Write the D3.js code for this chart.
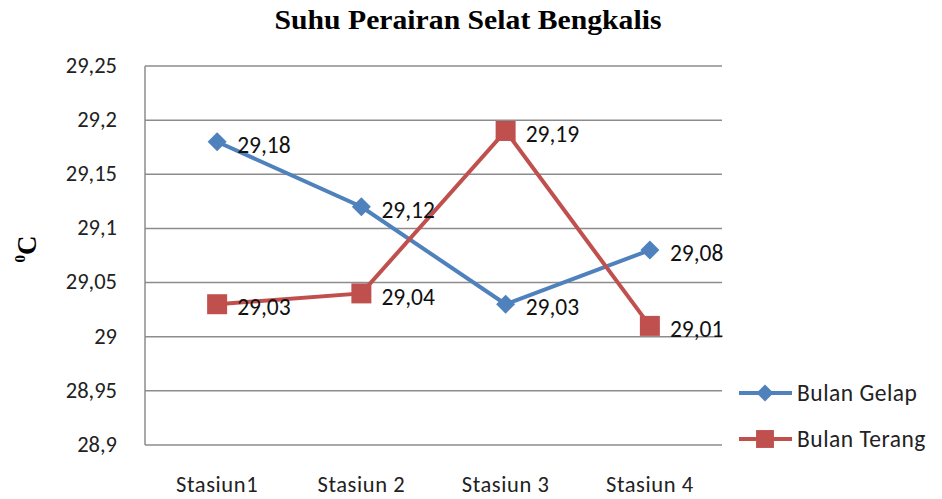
<!DOCTYPE html>
<html>
<head>
<meta charset="utf-8">
<script src="https://cdn.jsdelivr.net/npm/d3@7"></script>
<style>
  body { margin: 0; background: #fff; }
  svg { display: block; }
</style>
</head>
<body>
<div id="chart"></div>
<script>
const stations = ["Stasiun1", "Stasiun 2", "Stasiun 3", "Stasiun 4"];
const bulanGelap = [29.18, 29.12, 29.03, 29.08];
const bulanTerang = [29.03, 29.04, 29.19, 29.01];
const yTicks = [28.9, 28.95, 29, 29.05, 29.1, 29.15, 29.2, 29.25];

const width = 942, height = 499;
const margin = { top: 66, right: 220, bottom: 54, left: 145 };
const labelFont = "Carlito, Lato, 'Open Sans', sans-serif";
const fmt = (v) => String(+v.toFixed(2)).replace(".", ",");

const svg = d3.select("#chart")
  .append("svg")
  .attr("width", width)
  .attr("height", height);

const x = d3.scaleBand()
  .domain(stations)
  .range([margin.left, width - margin.right]);

const y = d3.scaleLinear()
  .domain([28.9, 29.25])
  .range([height - margin.bottom, margin.top]);

// gridlines
svg.append("g")
  .selectAll("line")
  .data(yTicks)
  .join("line")
  .attr("x1", margin.left)
  .attr("x2", width - margin.right)
  .attr("y1", (d) => y(d))
  .attr("y2", (d) => y(d))
  .attr("stroke", "#8c8c8c")
  .attr("stroke-width", 1.5);

// left axis line
svg.append("line")
  .attr("x1", margin.left).attr("x2", margin.left)
  .attr("y1", y(29.25)).attr("y2", y(28.9))
  .attr("stroke", "#8c8c8c")
  .attr("stroke-width", 1.5);

// y tick labels
svg.append("g")
  .selectAll("text")
  .data(yTicks)
  .join("text")
  .attr("x", 117)
  .attr("y", (d) => y(d) - 1)
  .attr("dy", "0.35em")
  .attr("text-anchor", "end")
  .attr("font-family", labelFont)
  .attr("font-size", 22.5)
  .attr("fill", "#222")
  .text(fmt);

// x labels
svg.append("g")
  .selectAll("text")
  .data(stations)
  .join("text")
  .attr("x", (d) => x(d) + x.bandwidth() / 2)
  .attr("y", 492)
  .attr("text-anchor", "middle")
  .attr("font-family", labelFont)
  .attr("font-size", 22.5)
  .attr("letter-spacing", 0.6)
  .attr("fill", "#222")
  .text((d) => d);

// title
svg.append("text")
  .attr("x", 468)
  .attr("y", 29)
  .attr("text-anchor", "middle")
  .attr("font-family", "'Liberation Serif', 'Times New Roman', serif")
  .attr("font-weight", "bold")
  .attr("font-size", 27)
  .attr("textLength", 387)
  .attr("lengthAdjust", "spacingAndGlyphs")
  .text("Suhu Perairan Selat Bengkalis");

// y axis title
const yt = svg.append("text")
  .attr("transform", "translate(36,249) rotate(-90)")
  .attr("text-anchor", "middle")
  .attr("font-family", "'Liberation Serif', 'Times New Roman', serif")
  .attr("font-weight", "bold")
  .attr("font-size", 27);
yt.append("tspan").attr("font-size", 15).attr("dy", -11).text("0");
yt.append("tspan").attr("dy", 11).text("C");

const diamond = {
  draw(ctx, size) {
    const r = Math.sqrt(size / 2);
    ctx.moveTo(0, -r); ctx.lineTo(r, 0); ctx.lineTo(0, r); ctx.lineTo(-r, 0); ctx.closePath();
  }
};

const series = [
  { name: "Bulan Gelap", values: bulanGelap, color: "#4F81BD", shape: diamond, size: 180 },
  { name: "Bulan Terang", values: bulanTerang, color: "#C0504D", shape: d3.symbolSquare, size: 400 }
];

const cx = (i) => x(stations[i]) + x.bandwidth() / 2;
const line = d3.line()
  .x((d, i) => cx(i))
  .y((d) => y(d));

series.forEach((s) => {
  const g = svg.append("g");
  g.append("path")
    .datum(s.values)
    .attr("d", line)
    .attr("fill", "none")
    .attr("stroke", s.color)
    .attr("stroke-width", 4);
  g.selectAll("path.marker")
    .data(s.values)
    .join("path")
    .attr("class", "marker")
    .attr("transform", (d, i) => `translate(${cx(i)},${y(d)})`)
    .attr("d", d3.symbol(s.shape, s.size))
    .attr("fill", s.color);
});

// data labels
series.forEach((s) => {
  svg.append("g")
    .selectAll("text")
    .data(s.values)
    .join("text")
    .attr("x", (d, i) => cx(i) + 20)
    .attr("y", (d) => y(d) + 3)
    .attr("dy", "0.35em")
    .attr("font-family", labelFont)
    .attr("font-size", 23.5)
    .attr("fill", "#111")
    .text(fmt);
});

// legend
const legend = svg.append("g")
  .selectAll("g")
  .data(series)
  .join("g")
  .attr("transform", (d, i) => `translate(739,${393 + i * 46})`);
legend.append("line")
  .attr("x1", 0).attr("x2", 53)
  .attr("stroke", (d) => d.color)
  .attr("stroke-width", 4);
legend.append("path")
  .attr("transform", "translate(26,0)")
  .attr("d", (d) => d3.symbol(d.shape, d.size * 0.8)())
  .attr("fill", (d) => d.color);
legend.append("text")
  .attr("x", 58)
  .attr("dy", "0.35em")
  .attr("font-family", labelFont)
  .attr("font-size", 23.5)
  .attr("letter-spacing", 0.5)
  .attr("fill", "#222")
  .text((d) => d.name);
</script>
</body>
</html>
